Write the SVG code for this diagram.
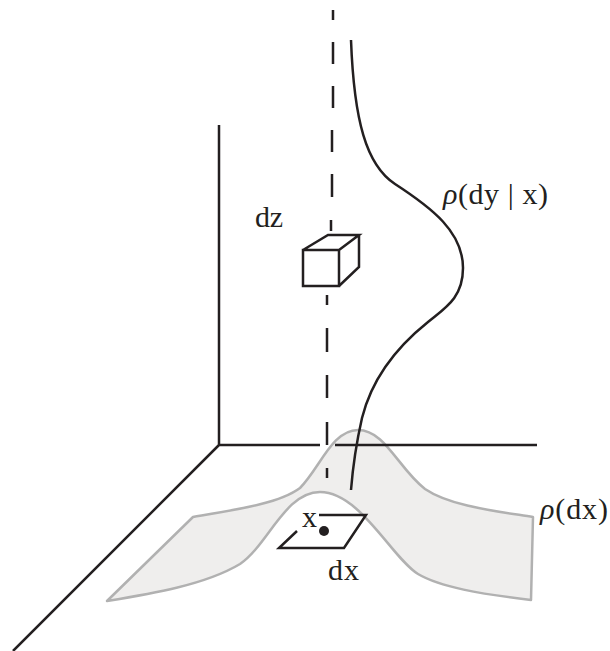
<svg xmlns="http://www.w3.org/2000/svg" width="610" height="651" viewBox="0 0 610 651">
<style>
.ln{fill:none;stroke:#231f20;stroke-width:2.5;stroke-linecap:butt;stroke-linejoin:miter}
.srf{fill:#efeeed;stroke:#b1b1b1;stroke-width:2.5;stroke-linejoin:round}
.t{font-family:"Liberation Serif","Times New Roman",serif;font-size:30px;fill:#231f20}
.i{font-style:italic}
</style>
<g id="surface">
<path class="srf" d="M193,517 C240,509 280,503 300,488 C320,468 332,430 358,430 C385,430 398,468 425,489 C450,506 495,511 533,517 L531,600 C480,594 440,587 418,574 C392,558 360,492 320,492 C285,492 268,545 240,564 C205,585 150,594 107,601 Z"/>
</g>
<g id="axes">
<path class="ln" d="M219,125 L219,445 L320,445 M335,445 L537,445 M219,445 L13,651"/>
</g>
<g id="connectors">
<path class="ln" d="M333,10 L333,20 M333,42 L333,64 M333,86 L333,108 M332,130 L332,152 M332,174 L332,197 M331,220 L331,231 M327,295 L327,305 M327,328 L327,352 M327,375 L327,398 M327,422 L327,445 M327,468 L327,478"/>
<path class="ln" d="M351,40 C354,120 366,165 395,184 C432,208 463,232 463,268 C463,298 445,308 428,322 C398,346 372,378 362,418 C357,440 353,465 351,490"/>
</g>
<g id="cube">
<path class="ln" d="M303,250 L339,250 L339,286 L303,286 Z M303,250 L328,235 L359,235 L339,250 M359,235 L359,267 L339,286"/>
</g>
<g id="cell">
<path class="ln" d="M319,515 L366,515 L344,548 L279,548 L297,531"/>
<circle cx="324" cy="531" r="5" fill="#231f20"/>
</g>
<g id="labels">
<text class="t" x="255" y="227" textLength="28">dz</text>
<text class="t" x="443" y="204" textLength="105"><tspan class="i">ρ</tspan>(dy | x)</text>
<text class="t" x="540" y="519" textLength="68"><tspan class="i">ρ</tspan>(dx)</text>
<text class="t" x="302" y="527">x</text>
<text class="t" x="328" y="580" textLength="31">dx</text>
</g>
</svg>
